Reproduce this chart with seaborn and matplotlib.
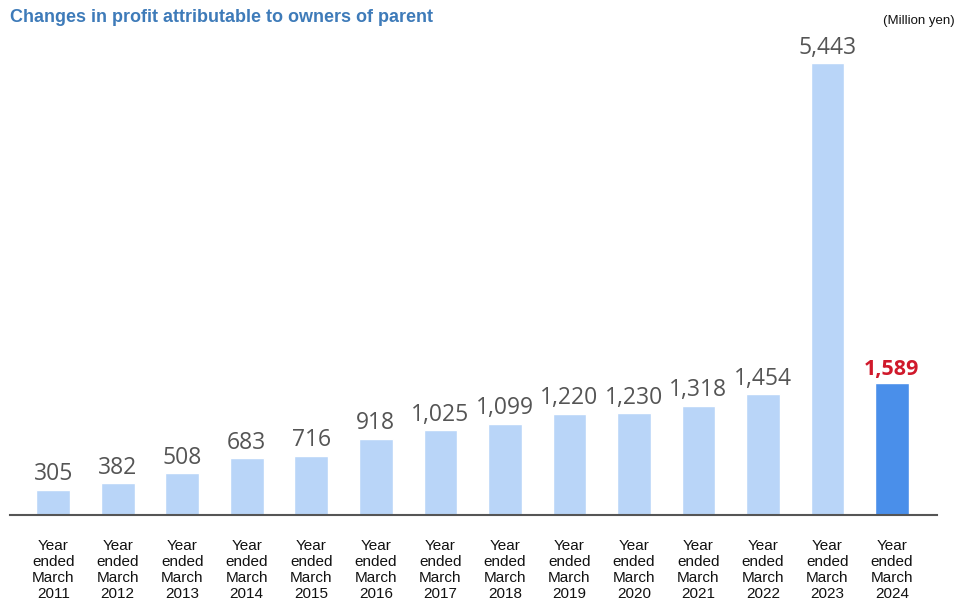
import pandas as pd
import matplotlib.pyplot as plt
import seaborn as sns

# Data
years = ["2011", "2012", "2013", "2014", "2015", "2016", "2017",
         "2018", "2019", "2020", "2021", "2022", "2023", "2024"]
profit = [305, 382, 508, 683, 716, 918, 1025, 1099, 1220, 1230, 1318, 1454, 5443, 1589]
highlight = [False] * 13 + [True]

df = pd.DataFrame({"year": years, "profit": profit, "latest": highlight})
df["label"] = "Year\nended\nMarch\n" + df["year"]

sns.set_theme(style="white")
plt.rcParams["font.family"] = ["Liberation Sans", "DejaVu Sans"]

fig = plt.figure(figsize=(9.61, 6.10), dpi=100)
ax = fig.add_axes([10 / 961, 95 / 610, 927 / 961, 475 / 610])

sns.barplot(data=df, x="label", y="profit", hue="latest",
            palette={False: "#b9d5f8", True: "#4a8fea"}, saturation=1,
            width=0.52, dodge=False, legend=False, ax=ax)

ax.set_xlim(-0.67, 13.7)
ax.set_ylim(0, 5722)

# value labels
for i, (v, hi) in enumerate(zip(profit, highlight)):
    if hi:
        ax.text(i, v + 40, f"{v:,}", ha="center", va="bottom", fontsize=15.5,
                fontweight="bold", color="#d0192b", family=["Open Sans", "DejaVu Sans"])
    else:
        ax.text(i, v + 40, f"{v:,}", ha="center", va="bottom", fontsize=16.5,
                color="#555555", family=["Open Sans", "DejaVu Sans"])

sns.despine(ax=ax, left=True, top=True, right=True)
ax.spines["bottom"].set_color("#555555")
ax.spines["bottom"].set_linewidth(1.5)
ax.set_yticks([])
ax.set_xlabel("")
ax.set_ylabel("")
ax.tick_params(axis="x", length=0, pad=17, labelsize=11, labelcolor="#111111")
for t in ax.get_xticklabels():
    t.set_linespacing(1.2)

fig.text(10 / 961, 1 - 17 / 610, "Changes in profit attributable to owners of parent",
         ha="left", va="center", fontsize=13, fontweight="bold", color="#3e7bb9")
fig.text(955 / 961, 1 - 21 / 610, "(Million yen)", ha="right", va="center",
         fontsize=9.5, color="#111111")

fig.savefig("out.png", dpi=100)
